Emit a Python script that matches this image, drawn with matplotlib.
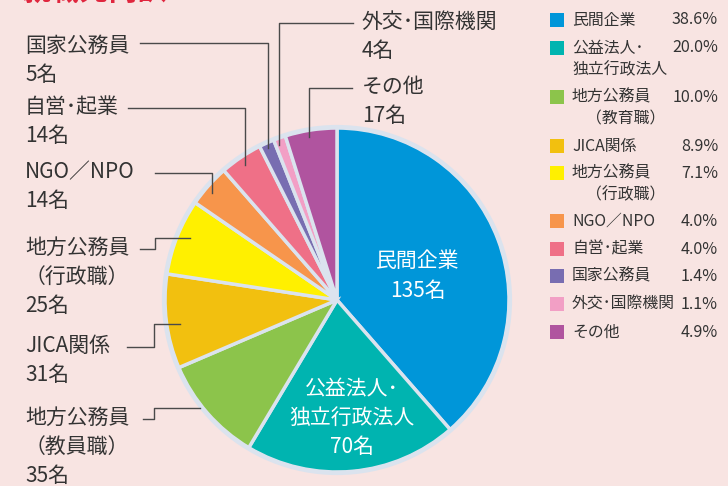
import matplotlib.pyplot as plt
from matplotlib.patches import Circle, Rectangle

plt.rcParams["font.family"] = ["Noto Sans CJK JP", "DejaVu Sans"]

# data
categories = [
    "民間企業", "公益法人･\n独立行政法人", "地方公務員\n（教育職）", "JICA関係",
    "地方公務員\n（行政職）", "NGO／NPO", "自営･起業", "国家公務員",
    "外交･国際機関", "その他",
]
counts = [135, 70, 35, 31, 25, 14, 14, 5, 4, 17]
percents = ["38.6%", "20.0%", "10.0%", "8.9%", "7.1%", "4.0%", "4.0%", "1.4%", "1.1%", "4.9%"]
colors = [
    "#0096d9", "#00b4b0", "#8cc44b", "#f2c00f", "#fff000",
    "#f7954b", "#ef7087", "#786db1", "#f29fc5", "#b0549f",
]

BG = "#f8e4e2"
EDGE = "#dbe3ee"
TEXT = "#333333"
LINE = "#4a4a4a"

fig = plt.figure(figsize=(7.28, 4.86), dpi=100, facecolor=BG)
ax = fig.add_axes([0, 0, 1, 1])
ax.set_facecolor(BG)

cx, cy, r = 337, 300, 172

# y inverted below -> start at -90 and go "counterclock" to look clockwise
ax.pie(
    counts,
    colors=colors,
    startangle=-90,
    counterclock=True,
    center=(cx, cy),
    radius=r,
    wedgeprops=dict(edgecolor=EDGE, linewidth=2.5),
    frame=True,
)
# pixel coordinates, y grows downward
ax.set_xlim(0, 728)
ax.set_ylim(486, 0)
ax.set_aspect("equal")
ax.axis("off")
ax.add_patch(Circle((cx, cy), r + 1, fill=False, edgecolor=EDGE, linewidth=3))

# labels inside the pie
ax.text(418, 276, "民間企業\n135名", color="white", fontsize=15,
        ha="center", va="center", linespacing=1.5)
ax.text(352, 418, "公益法人･\n独立行政法人\n70名", color="white", fontsize=15,
        ha="center", va="center", linespacing=1.4)

# outside labels (text, x, y of first line)
outside = [
    ("国家公務員\n5名", 25, 47),
    ("自営･起業\n14名", 25, 108),
    ("NGO／NPO\n14名", 25, 173),
    ("地方公務員\n（行政職）\n25名", 25, 249),
    ("JICA関係\n31名", 25, 347),
    ("地方公務員\n（教員職）\n35名", 25, 419),
    ("外交･国際機関\n4名", 362, 23),
    ("その他\n17名", 362, 88),
]
for text, x, y in outside:
    ax.text(x, y - 12, text, color=TEXT, fontsize=15, ha="left", va="top",
            linespacing=1.4)

leaders = [
    ([140, 268, 268], [43, 43, 148]),
    ([128, 245, 245], [108, 108, 165]),
    ([155, 212, 212], [173, 173, 193]),
    ([140, 155, 155, 190], [249, 249, 238, 238]),
    ([127, 154, 154, 180], [347, 347, 324, 324]),
    ([143, 154, 154, 200], [419, 419, 408, 408]),
    ([353, 279, 279], [23, 23, 145]),
    ([352, 309, 309], [88, 88, 137]),
]
for xs, ys in leaders:
    ax.plot(xs, ys, color=LINE, linewidth=1)

# legend
legend_names = [
    "民間企業", "公益法人･", "地方公務員", "JICA関係", "地方公務員",
    "NGO／NPO", "自営･起業", "国家公務員", "外交･国際機関", "その他",
]
legend_sub = {1: "独立行政法人", 2: "（教育職）", 4: "（行政職）"}
legend_y = [20, 48, 97, 146, 173, 221, 249, 276, 304, 332]
for i, name in enumerate(legend_names):
    y = legend_y[i]
    ax.add_patch(Rectangle((550, y - 7), 14, 14, facecolor=colors[i], edgecolor="none"))
    ax.text(572, y, name, color=TEXT, fontsize=11.4, ha="left", va="center")
    ax.text(718, y, percents[i], color=TEXT, fontsize=11.6, ha="right", va="center")
    if i in legend_sub:
        sx = 572 if i == 1 else 586
        ax.text(sx, y + 22, legend_sub[i], color=TEXT, fontsize=11.4,
                ha="left", va="center")

# title, mostly cut off at the top edge
ax.text(22, 7, "就職先内訳", color="#e0263e", fontsize=21, fontweight="bold",
        ha="left", va="bottom")

fig.savefig("out.png", dpi=100, facecolor=BG)
